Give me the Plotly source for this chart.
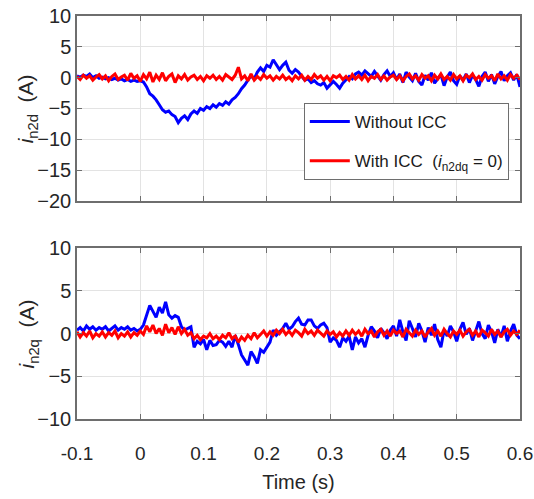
import plotly.graph_objects as go

# ---------------- data ----------------
t_start = -0.1
t_step = 0.005

ind_without = [
    0.3, 0.1, 0.4, 0.2, 0.6, 0.0, 0.3, -0.1, 0.1, -0.2, 0.0, -0.3, -0.1, -0.4, -0.2, -0.5, -0.3, -0.6, -0.4, -0.6,
    -0.5, -0.7, -1.5, -2.6, -3.0, -3.6, -4.4, -5.2, -5.6, -5.4, -6.0, -6.3, -7.3, -6.6, -6.2, -6.8, -5.9, -5.4, -5.8, -5.0,
    -5.3, -4.7, -5.0, -4.4, -4.8, -4.2, -4.5, -3.9, -4.3, -3.6, -3.2, -2.6, -1.8, -1.2, -0.4, 0.3, -0.2, 0.9, 1.6, 1.0,
    2.0, 1.7, 2.9, 2.2, 1.3, 2.0, 2.5, 1.2, 0.7, 1.3, 0.9, 0.2, -0.4, -0.2, -0.8, -0.5, -1.0, -1.2, -0.8, -1.7,
    -1.2, -0.6, -1.1, -1.7, -0.9, -0.3, 0.2, -0.2, 0.6, 0.9, 0.4, 1.1, 0.7, 0.2, 1.0, 0.3, -0.4, 0.5, 1.1, 0.2,
    0.8, -0.3, 0.6, -0.8, 0.9, 0.1, -0.5, 0.7, -0.6, -1.2, 0.4, -0.4, 0.8, -0.9, -0.2, 0.5, -1.3, 0.1, 0.9, -0.5,
    -1.1, 0.3, -0.4, 0.6, -0.8, 0.4, -0.3, -1.4, 0.2, 0.9, -0.6, 0.5, -1.0, 0.2, 1.0, -0.5, 0.3, 0.8, -0.4, 0.5,
    -1.5,
]
ind_with = [
    0.2, -0.3, 0.4, -0.1, 0.3, -0.4, 0.1, 0.5, -0.2, 0.3, -0.5, 0.2, 0.6, -0.3, 0.1, 0.4, -0.4, 0.7, -0.1, 0.3,
    -0.6, 0.5, -0.2, 0.9, -0.7, 0.4, -0.3, 0.8, -0.5, 0.2, 0.6, -0.8, 0.3, -0.2, 0.5, -0.4, 0.1, 0.4, -0.3, 0.2,
    -0.5, 0.3, -0.1, 0.4, -0.3, 0.2, -0.4, 0.5, 0.1, -0.3, 0.4, 1.7, -0.2, 0.3, -0.5, 0.6, -0.4, 0.2, -0.3, 0.5,
    -0.1, 0.3, -0.4, 0.2, -0.2, 0.4, -0.3, 0.1, -0.5, 0.3, -0.2, 0.4, -0.4, 0.2, -0.3, 0.5, -0.1, 0.3, -0.4, 0.2,
    -0.5, 0.3, 0.0, 0.4, -0.3, 0.2, -0.4, 0.5, -0.2, 0.3, -0.3, 0.4, -0.5, 0.2, -0.1, 0.5, -0.3, 0.3, -0.4, 0.1,
    0.4, -0.3, 0.3, -0.5, 0.2, 0.6, -0.2, 0.3, -0.4, 0.5, -0.1, 0.3, -0.5, 0.4, -0.2, 0.6, -0.3, 0.2, -0.4, 0.5,
    -0.2, 0.3, -0.5, 0.4, 0.0, 0.6, -0.3, 0.2, -0.4, 0.5, -0.1, 0.3, -0.5, 0.6, -0.2, 0.3, -0.4, 0.5, -0.1, 0.4,
    -0.3,
]
inq_without = [
    0.4, 0.7, 0.3, 0.9, 0.5, 0.8, 0.4, 0.7, 0.5, 0.8, 0.3, 0.6, 0.9, 0.4, 0.7, 0.5, 0.8, 0.4, 0.6, 0.3,
    0.5, 1.0, 2.2, 3.3, 2.6, 1.9, 3.1, 2.4, 3.7, 2.2, 1.8, 2.1, 1.9, 0.8, 0.4, 0.6, 0.8, -1.6, -0.9, -1.2,
    -0.7, -1.9, -0.8, -1.4, -1.3, -0.8, -1.0, -1.5, -0.9, -1.6, -0.2, -1.3, -2.5, -3.1, -3.7, -2.1, -2.7, -3.5, -1.9, -2.2,
    -1.6, -1.0, 0.4, -0.2, 0.2, 0.6, 1.2, 0.5, 0.8, 1.4, 1.8, 1.1, 1.0, 1.6, 1.6, 0.9, 0.6, 1.0, 1.2, 0.7,
    -1.0, -0.5, -0.8, -1.6, -0.5, -0.9, -0.3, -1.9, -0.4, -1.1, -0.6, -1.6, -0.2, 0.8, 0.3, -0.5, 0.6, 0.1, -0.6, 0.4,
    0.9, -0.3, 1.6, 0.2, -0.8, 1.5, 0.6, -0.4, 1.2, 0.3, -1.0, 0.7, -0.2, 1.1, -0.7, -1.6, 0.4, -0.3, 0.9, 0.2,
    -0.9, 0.5, 1.3, -0.1, 0.6, -0.8, 0.3, 1.4, 0.0, -0.6, 1.0, 0.2, -1.1, 0.5, -0.4, 0.9, -0.9, 0.3, 1.1, -0.2,
    -0.6,
]
inq_with = [
    0.2, -0.4, 0.1, -0.3, 0.3, -0.5, 0.0, -0.3, 0.2, -0.4, 0.1, -0.2, 0.3, -0.5, 0.0, -0.3, 0.2, -0.4, 0.1, -0.2,
    0.3, -0.1, 0.9, 0.2, 1.0, 0.0, 0.6, -0.2, 1.1, 0.1, 0.7, -0.1, 0.8, 0.0, 0.5, -0.2, 0.1, -0.6, -0.2, -0.7,
    -0.3, -0.5, 0.0, -0.6, -0.3, -0.7, -0.2, -0.5, 0.1, -0.6, -0.3, -1.0, -0.4, -0.8, -0.2, -0.6, 0.1, -0.5, -0.1, 0.3,
    -0.3, 0.2, -0.2, 0.4, 0.0, 0.5, -0.1, 0.3, -0.2, 0.4, 0.1, -0.3, 0.5, 0.0, 0.3, -0.2, 0.4, 0.1, -0.3, 0.3,
    -0.1, 0.2, -0.4, 0.1, -0.3, 0.3, -0.2, 0.4, -0.1, 0.3, -0.3, 0.5, 0.0, 0.3, -0.4, 0.2, 0.5, -0.2, 0.3, -0.3,
    0.4, 0.0, 0.3, -0.4, 0.5, 0.1, -0.3, 0.4, -0.1, 0.3, -0.4, 0.2, 0.6, -0.2, 0.3, -0.3, 0.5, 0.0, -0.4, 0.3,
    -0.1, 0.4, -0.3, 0.2, 0.5, -0.2, 0.3, -0.4, 0.4, 0.1, -0.3, 0.5, -0.1, 0.3, -0.4, 0.2, 0.5, -0.2, 0.3, -0.1,
    0.4,
]

x_ticks = [-0.1, 0, 0.1, 0.2, 0.3, 0.4, 0.5, 0.6]
x_ticklabels = ["-0.1", "0", "0.1", "0.2", "0.3", "0.4", "0.5", "0.6"]
yd_ticks = [-20, -15, -10, -5, 0, 5, 10]
yq_ticks = [-10, -5, 0, 5, 10]
name_without = "Without ICC"
name_with = "With ICC  (<i>i</i><sub>n2dq</sub> = 0)"
ylabel_d = "<i>i</i><sub>n2d</sub>  (A)"
ylabel_q = "<i>i</i><sub>n2q</sub>  (A)"
xlabel = "Time (s)"


def times(vals):
    return [round(t_start + t_step * i, 4) for i in range(len(vals))]


FONT = "Liberation Sans, Arial, sans-serif"
TXT = "#262626"
BLUE = "#0000FF"
RED = "#FF0000"

fig = go.Figure()
fig.add_trace(go.Scatter(x=times(ind_without), y=ind_without, mode="lines", name=name_without,
                         legendgroup="a", line=dict(color=BLUE, width=3), xaxis="x", yaxis="y"))
fig.add_trace(go.Scatter(x=times(ind_with), y=ind_with, mode="lines", name=name_with,
                         legendgroup="b", line=dict(color=RED, width=3), xaxis="x", yaxis="y"))
fig.add_trace(go.Scatter(x=times(inq_without), y=inq_without, mode="lines", showlegend=False,
                         line=dict(color=BLUE, width=3), xaxis="x2", yaxis="y2"))
fig.add_trace(go.Scatter(x=times(inq_with), y=inq_with, mode="lines", showlegend=False,
                         line=dict(color=RED, width=3), xaxis="x2", yaxis="y2"))

axis_common = dict(
    showline=True, linecolor="#6e6e6e", linewidth=1.5, mirror="ticks",
    ticks="inside", ticklen=5, tickcolor="#6e6e6e", tickwidth=1,
    showgrid=True, gridcolor="#e3e3e3", gridwidth=1, zeroline=False,
    tickfont=dict(family=FONT, size=20, color=TXT), automargin=False,
)

D_TOP = [0.541, 1.0]
D_BOT = [0, 0.424]

fig.update_layout(
    width=534, height=499,
    margin=dict(l=77, r=14, t=16, b=80),
    paper_bgcolor="white", plot_bgcolor="white",
    font=dict(family=FONT, color=TXT),
    xaxis=dict(domain=[0, 1], range=[-0.1, 0.6], tickvals=x_ticks, ticktext=x_ticklabels,
               showticklabels=False, anchor="y", **axis_common),
    yaxis=dict(domain=D_TOP, range=[-20, 10], tickvals=yd_ticks, anchor="x", **axis_common),
    xaxis2=dict(domain=[0, 1], range=[-0.1, 0.6], tickvals=x_ticks, ticktext=x_ticklabels,
                anchor="y2", ticklabelstandoff=16, ticklabeloverflow="allow",
                title=dict(text=xlabel, font=dict(family=FONT, size=20, color=TXT), standoff=12),
                **{**axis_common, "tickfont": dict(family=FONT, size=19, color=TXT)}),
    yaxis2=dict(domain=D_BOT, range=[-10, 10], tickvals=yq_ticks, anchor="x2", **axis_common),
    legend=dict(x=0.512, y=0.784, xanchor="left", yanchor="top",
                bgcolor="white", bordercolor="#6e6e6e", borderwidth=1,
                font=dict(family=FONT, size=17, color="#1a1a1a"),
                itemwidth=40, traceorder="grouped", tracegroupgap=14),
    annotations=[
        dict(text=ylabel_d, xref="paper", yref="paper", x=-0.111, y=sum(D_TOP) / 2,
             xanchor="center", yanchor="middle", textangle=-90, showarrow=False,
             font=dict(family=FONT, size=21, color=TXT)),
        dict(text=ylabel_q, xref="paper", yref="paper", x=-0.111, y=sum(D_BOT) / 2,
             xanchor="center", yanchor="middle", textangle=-90, showarrow=False,
             font=dict(family=FONT, size=21, color=TXT)),
    ],
)

fig.write_html("out.html")
